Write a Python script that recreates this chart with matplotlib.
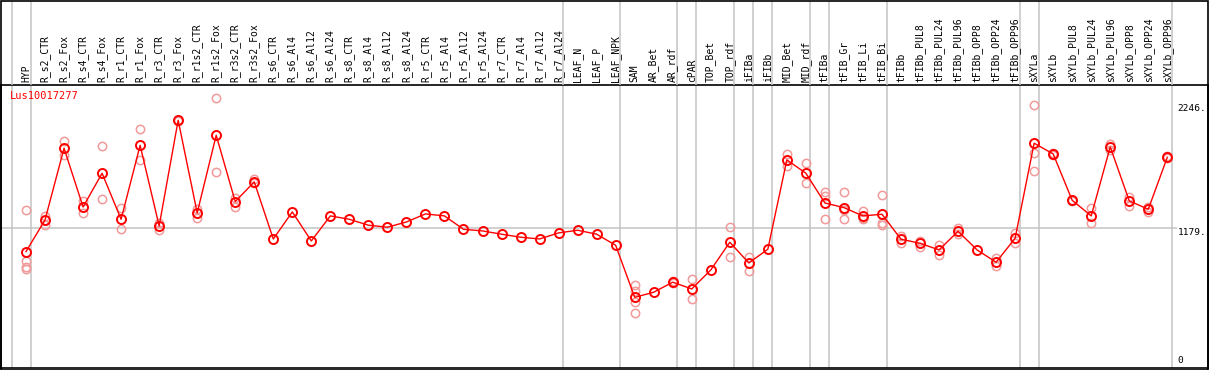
import matplotlib
matplotlib.use("Agg")
import matplotlib.pyplot as plt
from matplotlib.patches import Rectangle

# ==========================
# Data
# ==========================
labels = [
    "HYP",
    "R_s2_CTR", "R_s2_Fox", "R_s4_CTR", "R_s4_Fox", "R_r1_CTR", "R_r1_Fox",
    "R_r3_CTR", "R_r3_Fox", "R_r1s2_CTR", "R_r1s2_Fox", "R_r3s2_CTR", "R_r3s2_Fox",
    "R_s6_CTR", "R_s6_Al4", "R_s6_Al12", "R_s6_Al24",
    "R_s8_CTR", "R_s8_Al4", "R_s8_Al12", "R_s8_Al24",
    "R_r5_CTR", "R_r5_Al4", "R_r5_Al12", "R_r5_Al24",
    "R_r7_CTR", "R_r7_Al4", "R_r7_Al12", "R_r7_Al24",
    "LEAF_N", "LEAF_P", "LEAF_NPK",
    "SAM", "AR_Bet", "AR_rdf", "cPAR", "TOP_Bet", "TOP_rdf",
    "iFIBa", "iFIBb", "MID_Bet", "MID_rdf",
    "tFIBa", "tFIB_Gr", "tFIB_Li", "tFIB_Bi",
    "tFIBb", "tFIBb_PUL8", "tFIBb_PUL24", "tFIBb_PUL96",
    "tFIBb_OPP8", "tFIBb_OPP24", "tFIBb_OPP96",
    "sXYLa", "sXYLb", "sXYLb_PUL8", "sXYLb_PUL24", "sXYLb_PUL96",
    "sXYLb_OPP8", "sXYLb_OPP24", "sXYLb_OPP96",
]

means = [
    979,
    1250, 1866, 1362, 1651, 1256, 1891,
    1199, 2106, 1311, 1977, 1408, 1577,
    1087, 1319, 1070, 1285,
    1256, 1205, 1188, 1233,
    1302, 1285, 1170, 1156,
    1128, 1102, 1087, 1139,
    1162, 1128, 1033,
    586, 630, 716, 658, 821, 1059,
    881, 999, 1766, 1651,
    1396, 1356, 1285, 1299,
    1085, 1050, 993, 1153,
    993, 887, 1093,
    1909, 1817, 1419, 1285, 1877,
    1414, 1342, 1788,
]

replicates = [
    [1333, 899, 850, 827],
    [1288, 1208, 1250], [1929, 1808], [1416, 1308], [1886, 1428], [1356, 1170], [2029, 1763],
    [1228, 1165], [2110, 2102], [1345, 1271], [2295, 1660], [1437, 1365], [1600, 1565],
    [], [], [], [],
    [], [], [], [],
    [], [], [], [],
    [], [], [], [],
    [], [], [],
    [692, 640, 548, 449], [], [725, 708], [744, 570], [], [1188, 930],
    [936, 813], [], [1814, 1714], [1737, 1565],
    [1491, 1457, 1256], [1491, 1333, 1256], [1331, 1270, 1256], [1462, 1222, 1208],
    [1113, 1056], [1070, 1022], [1033, 950], [1179, 1130],
    [], [921, 856], [1142, 1050],
    [2235, 1823, 1674], [1825, 1805], [1425, 1413], [1351, 1222], [1906, 1851],
    [1451, 1374], [1362, 1322], [1795, 1781],
]

# group separators drawn after these column indices
group_ends = [-1, 0, 28, 31, 34, 35, 37, 38, 39, 41, 42, 45, 52, 53, 60]

y_ticks = [0, 1179, 2246]
y_tick_labels = ["0", "1179.", "2246."]
gene = "Lus10017277"

# ==========================
# Figure layout (pixel based)
# ==========================
W, H = 1209, 370
fig = plt.figure(figsize=(W / 100, H / 100), dpi=100)

x_left, x_right = -1.314, 62.14
y_bottom, y_top = -20.6, 2408.6

ax = fig.add_axes([1 / W, (H - 368) / H, 1207 / W, 283 / H])
ax.set_xlim(x_left, x_right)
ax.set_ylim(y_bottom, y_top)
ax.set_xticks([])
ax.set_yticks([])
for s in ax.spines.values():
    s.set_color("black")
    s.set_linewidth(1.2)

ax_lab = fig.add_axes([1 / W, (H - 85) / H, 1207 / W, 84 / H])
ax_lab.set_xlim(x_left, x_right)
ax_lab.set_ylim(0, 1)
ax_lab.axis("off")

font = "DejaVu Sans Mono"
grid_col = "#c4c4c4"

# separators
for g in group_ends:
    ax.axvline(g + 0.24, color=grid_col, lw=1.1, zorder=0)
    ax_lab.axvline(g + 0.24, color=grid_col, lw=1.1, zorder=0)

# horizontal reference line
ax.hlines(1179, x_left, 60.5, color=grid_col, lw=1.1, zorder=0)

# replicate points
for i, reps in enumerate(replicates):
    if reps:
        ax.plot([i] * len(reps), reps, "o", ms=6, mfc="none",
                mec="#f09a9a", mew=1.1, zorder=2)

# mean line
xs = list(range(len(means)))
ax.plot(xs, means, "-", color="red", lw=1, zorder=3)
ax.plot(xs, means, "o", ms=6.5, mfc="none", mec="red", mew=1.4, zorder=4)

# column labels
for i, lab in enumerate(labels):
    ax_lab.text(i, 0.03, lab, rotation=90, ha="center", va="bottom",
                fontsize=7, family=font, color="black")

# gene name
ax.text(-0.85, 2310, gene, fontsize=7.5, family=font, color="red",
        va="center", ha="left")

# y labels on the right
for v, t in zip(y_ticks, y_tick_labels):
    va = "bottom" if v == 0 else "top"
    ax.text(60.55, v if v else y_bottom + 30, t, fontsize=6.8, family=font,
            color="black", ha="left", va=va)

# outer border
fig.patches.append(Rectangle((0.5 / W, 0.5 / H), 1 - 1.5 / W, 1 - 1.5 / H,
                             transform=fig.transFigure, fill=False,
                             edgecolor="black", lw=1.2))

fig.savefig("out.png", dpi=100)
